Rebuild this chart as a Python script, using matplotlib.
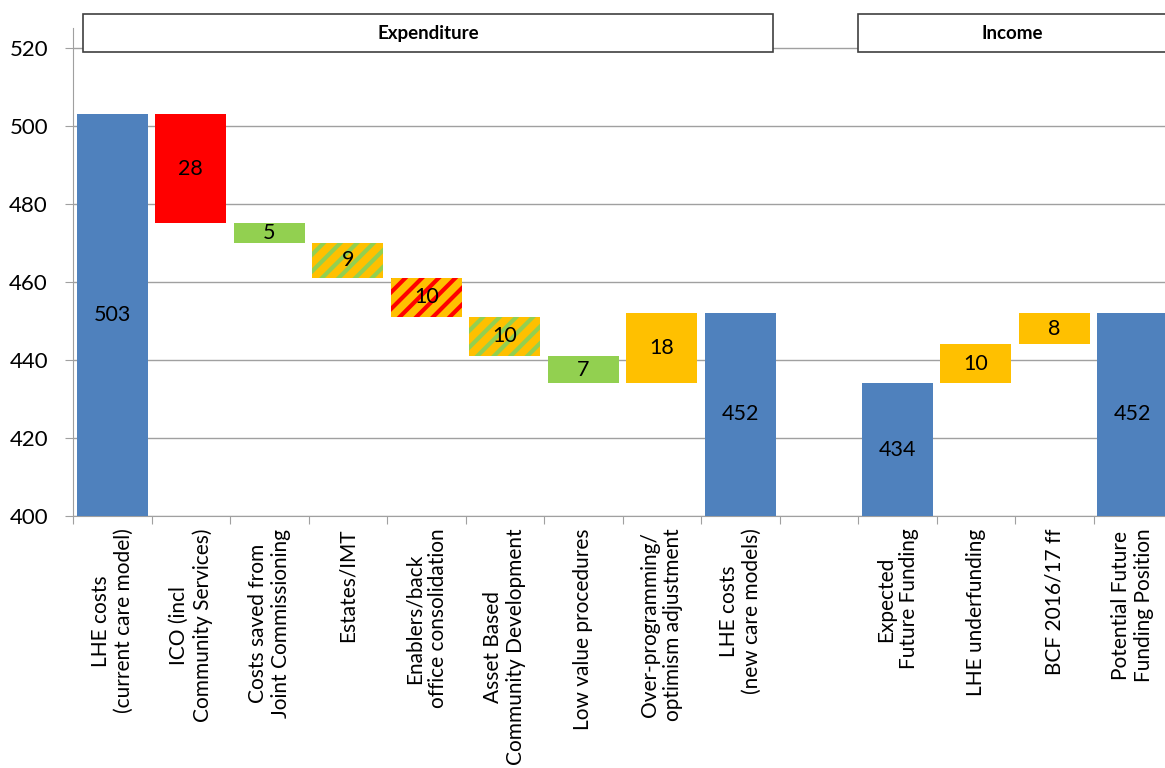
import matplotlib
matplotlib.use("Agg")
import matplotlib.pyplot as plt
from matplotlib.patches import Rectangle

plt.rcParams['font.family'] = ['Lato', 'DejaVu Sans']
plt.rcParams['hatch.linewidth'] = 3.0

# categories (one empty slot between expenditure and income)
cats = ["LHE costs\n(current care model)", "ICO (incl\nCommunity Services)",
        "Costs saved from\nJoint Commissioning", "Estates/IMT",
        "Enablers/back\noffice consolidation", "Asset Based\nCommunity Development",
        "Low value procedures", "Over-programming/\noptimism adjustment",
        "LHE costs\n(new care models)", "",
        "Expected\nFuture Funding", "LHE underfunding", "BCF 2016/17 ff",
        "Potential Future\nFunding Position"]
values = [503, -28, -5, -9, -10, -10, -7, 18, 452, None, 434, 10, 8, 452]
is_total = [True, False, False, False, False, False, False, False, True, False,
            True, False, False, True]

blue = '#4F81BD'
red = '#FF0000'
green = '#92D050'
orange = '#FFC000'
face = [blue, red, green, orange, orange, orange, green, orange, blue, 'none',
        blue, orange, orange, blue]
hatch_col = [None, None, None, green, red, green, None, None, None, None,
             None, None, None, None]

fig = plt.figure(figsize=(11.65, 7.68), dpi=100)
ax = fig.add_axes([73 / 1165, 252 / 768, 1099 / 1165, 488 / 768])

running = 0
for i, v in enumerate(values):
    if v is None:
        continue
    if is_total[i]:
        bottom, height = 0, v
        running = v
        ytxt = (400 + v) / 2
    else:
        if v < 0:
            bottom, height = running + v, -v
        else:
            bottom, height = running, v
        running += v
        ytxt = bottom + height / 2
    if hatch_col[i]:
        ax.bar(i, height, bottom=bottom, width=0.9, color=face[i],
               edgecolor=hatch_col[i], hatch='//', linewidth=0, zorder=3)
    else:
        ax.bar(i, height, bottom=bottom, width=0.9, color=face[i],
               linewidth=0, zorder=3)
    ax.text(i, ytxt, str(abs(v)), ha='center', va='center', fontsize=15.5,
            color='black', zorder=4)

ax.set_xlim(-0.5, 13.5)
ax.set_ylim(400, 525)
ax.set_yticks(range(400, 521, 20))
ax.yaxis.grid(True, color='#A0A0A0', linewidth=1)
ax.set_axisbelow(True)

ax.set_xticks([i + 0.5 for i in range(-1, 14)], minor=False)
ax.set_xticklabels([])
ax.set_xticks(range(14), minor=True)
ax.set_xticklabels(cats, minor=True, rotation=90, fontsize=15,
                   multialignment='center', va='top', ha='center')
ax.tick_params(axis='x', which='minor', length=0, pad=9)
ax.tick_params(axis='x', which='major', length=6, color='#A0A0A0', direction='out')
ax.tick_params(axis='y', length=6, color='#A0A0A0', labelsize=16, pad=12)

for s in ['top', 'right']:
    ax.spines[s].set_visible(False)
for s in ['left', 'bottom']:
    ax.spines[s].set_color('#A0A0A0')

# header boxes
for x0, x1, xt, name in [(-0.37, 8.42, 4.02, 'Expenditure'),
                         (9.5, 13.6, 11.46, 'Income')]:
    ax.add_patch(Rectangle((x0, 518.9), x1 - x0, 9.8, facecolor='white',
                           edgecolor='#404040', linewidth=1.2,
                           clip_on=False, zorder=5))
    ax.text(xt, 523.6, name, ha='center', va='center', fontsize=13.5,
            fontweight='bold', zorder=6, clip_on=False)

fig.savefig('out.png', dpi=100)
